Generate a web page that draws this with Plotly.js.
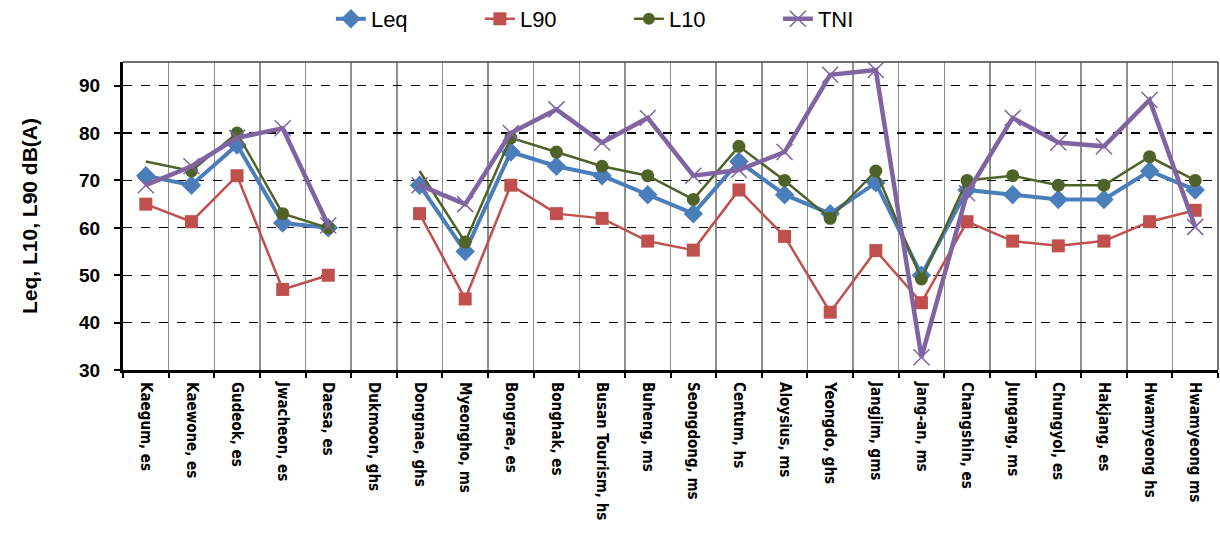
<!DOCTYPE html>
<html>
<head>
<meta charset="utf-8">
<script src="https://cdn.plot.ly/plotly-3.0.1.min.js"></script>
<style>html,body{margin:0;padding:0;background:#fff;}#chart{width:1220px;height:542px;}</style>
</head>
<body>
<div id="chart"></div>
<script>
const categories = ["Kaegum, es","Kaewone, es","Gudeok, es","Jwacheon, es","Daesa, es","Dukmoon, ghs","Dongnae, ghs","Myeongho, ms","Bongrae, es","Bonghak, es","Busan Tourism, hs","Buheng, ms","Seongdong, ms","Centum, hs","Aloysius, ms","Yeongdo, ghs","Jangjim, gms","Jang-an, ms","Changshin, es","Jungang, ms","Chungyol, es","Hakjang, es","Hwamyeong hs","Hwamyeong ms"];
const leq = [71,69,77.5,61,60,null,69,55,76,73,71,67,63,74,67,63,69.5,50,68,67,66,66,72,68];
const l90 = [65,61.3,71,47,50,null,63,45,69,63,62,57.2,55.3,68,58.2,42.2,55.2,44.2,61.3,57.2,56.2,57.2,61.3,63.7];
const l10 = [74,72,80,63,60,null,72,57,79,76,73,71,66,77.2,70,62,72,49.2,70,71,69,69,75,70];
const tni = [69,73,79,81,60.5,null,69,65,80,85,78,83.2,71,72.2,76,92.3,93.3,32.7,67.3,83.2,78,77.2,87,60.2];

const l10Sizes = l10.map((v,i)=> (i===0||i===6) ? 0 : 13);

const traces = [
  {x:categories, y:leq, name:"Leq", type:"scatter", mode:"lines+markers",
   line:{color:"#4A7EBB", width:4}, marker:{symbol:"diamond", size:15, color:"#4A7EBB"}},
  {x:categories, y:l90, name:"L90", type:"scatter", mode:"lines+markers",
   line:{color:"#C0504D", width:2.5}, marker:{symbol:"square", size:13, color:"#C0504D"}},
  {x:categories, y:l10, name:"L10", type:"scatter", mode:"lines+markers",
   line:{color:"#4F6228", width:2.5}, marker:{symbol:"circle", size:l10Sizes, color:"#4F6228", opacity:1, line:{width:0}}},
  {x:categories, y:tni, name:"TNI", type:"scatter", mode:"lines+markers",
   line:{color:"#8064A2", width:4.5}, marker:{symbol:"x-thin-open", size:16, line:{color:"#B7A2D3", width:1.5}}}
];

const layout = {
  width:1220, height:542,
  margin:{l:123, r:2, t:62, b:172},
  paper_bgcolor:"#fff", plot_bgcolor:"#fff",
  showlegend:true,
  legend:{orientation:"h", xref:"paper", x:0.462, xanchor:"center", yref:"container", y:0.965, yanchor:"middle",
          font:{family:"Liberation Sans, Arial, sans-serif", size:22, color:"#000"},
          entrywidth:104, entrywidthmode:"pixels", traceorder:"normal"},
  xaxis:{type:"category", tickson:"boundaries", showgrid:true, gridcolor:"#8e8e8e", gridwidth:1.5,
         tickangle:90, ticks:"outside", ticklen:5, tickcolor:"#000", tickwidth:2, ticklabelstandoff:6,
         showline:true, linecolor:"#000", linewidth:3, mirror:false,
         tickfont:{family:"Liberation Sans Narrow, DejaVu Sans Condensed, sans-serif", size:15, color:"#000", weight:"bold"},
         range:[-0.5, 23.5]},
  yaxis:{range:[30,95], tickvals:[30,40,50,60,70,80,90], showgrid:true, gridcolor:"#000", griddash:"dash", gridwidth:1.2,
         ticks:"outside", ticklen:6, tickcolor:"#000", tickwidth:2, ticklabelstandoff:10,
         showline:true, linecolor:"#000", linewidth:3, zeroline:false,
         tickfont:{family:"Liberation Sans, Arial, sans-serif", size:19, color:"#000", weight:"bold"},
         title:{text:"Leq, L10, L90 dB(A)", standoff:36, font:{family:"Liberation Sans, Arial, sans-serif", size:21, color:"#000", weight:"bold"}}},
  shapes:[
    {type:"line", xref:"paper", yref:"paper", x0:0, x1:1, y0:1, y1:1, line:{color:"#444", width:1.5}},
    {type:"line", xref:"paper", yref:"paper", x0:1, x1:1, y0:0, y1:1, line:{color:"#444", width:1.5}}
  ]
};

Plotly.newPlot("chart", traces, layout, {displayModeBar:false, staticPlot:true});
</script>
</body>
</html>
